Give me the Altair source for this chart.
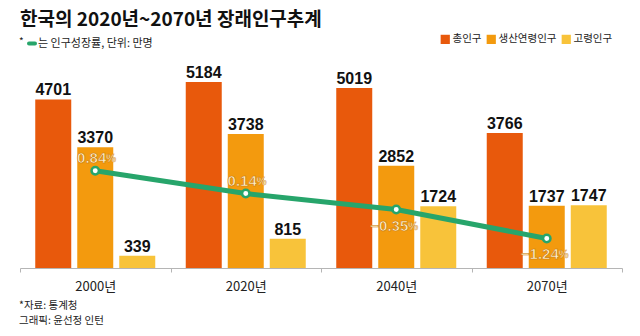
import altair as alt
import pandas as pd

# ---------------- data ----------------
years = ["2000년", "2020년", "2040년", "2070년"]
series_names = ["총인구", "생산연령인구", "고령인구"]
total_pop = [4701, 5184, 5019, 3766]
working_pop = [3370, 3738, 2852, 1737]
elderly_pop = [339, 815, 1724, 1747]
growth_rate = [0.84, 0.14, -0.35, -1.24]

title_text = "한국의 2020년~2070년 장래인구추계"
subtitle_text = "는 인구성장률, 단위: 만명"
source_text = "*자료: 통계청"
credit_text = "그래픽: 윤선정 인턴"

colors = ["#E8590C", "#F39A0E", "#F8C33A"]
line_color = "#27A56B"

rows = []
for s, vals in zip(series_names, [total_pop, working_pop, elderly_pop]):
    for y, v in zip(years, vals):
        rows.append({"year": y, "series": s, "value": v})
bars_df = pd.DataFrame(rows)
rate_df = pd.DataFrame({"year": years, "rate": growth_rate})
one_df = pd.DataFrame({"k": [0]})

KFONT = "Noto Sans CJK KR"
NFONT = "Liberation Sans Narrow, Arial Narrow, Liberation Sans, sans-serif"

x_enc = alt.X(
    "year:N", sort=years,
    scale=alt.Scale(domain=years, paddingInner=0, paddingOuter=0),
    axis=alt.Axis(title=None, labelAngle=0, tickBand="extent", domainColor="#b5b5b5",
                  tickColor="#b5b5b5", tickSize=4, labelFont=KFONT, labelFontSize=13,
                  labelColor="#222222", labelPadding=8, domainWidth=1, grid=False),
)
xoff_enc = alt.XOffset(
    "series:N", sort=series_names,
    scale=alt.Scale(domain=series_names, paddingInner=0.143, paddingOuter=0.363),
)
y_bar = alt.Y("value:Q", scale=alt.Scale(domain=[0, 5800], nice=False, zero=True), axis=None)
y_rate = alt.Y("rate:Q", scale=alt.Scale(domain=[-2.15, 4.25], nice=False, zero=False), axis=None)

bars = alt.Chart(bars_df).mark_bar().encode(
    x=x_enc, xOffset=xoff_enc, y=y_bar,
    color=alt.Color(
        "series:N", sort=series_names,
        scale=alt.Scale(domain=series_names, range=colors),
        legend=alt.Legend(orient="none", legendX=420, legendY=-26, direction="horizontal",
                          title=None, symbolType="square", symbolSize=85, symbolStrokeWidth=0,
                          labelFont=KFONT, labelFontSize=10.5, labelColor="#222222",
                          columnPadding=4, labelOffset=2),
    ),
)
bar_text = alt.Chart(bars_df).mark_text(
    font=NFONT, fontSize=16, fontWeight="bold", baseline="alphabetic", dy=-4, color="#111111"
).encode(x=x_enc, xOffset=xoff_enc, y=y_bar, text="value:Q")

bar_layer = alt.layer(bars, bar_text)

line = alt.Chart(rate_df).mark_line(color=line_color, strokeWidth=5).encode(x=x_enc, y=y_rate)
points = alt.Chart(rate_df).mark_circle(
    color="white", stroke=line_color, strokeWidth=2.5, size=55, opacity=1
).encode(x=x_enc, y=y_rate)

label_color = "#FFF4CF"
label_stroke = "#C8780A"
pos_num = alt.Chart(rate_df).transform_filter("datum.rate >= 0").mark_text(
    align="right", baseline="middle", dx=11, dy=-13, font="Liberation Sans", fontSize=15,
    fontWeight="bold", color=label_color, stroke=label_stroke, strokeWidth=0.6
).encode(x=x_enc, y=y_rate, text=alt.Text("rate:Q", format=".2f"))
pos_pct = alt.Chart(rate_df).transform_filter("datum.rate >= 0").mark_text(
    text="%", align="left", baseline="middle", dx=11, dy=-12, font="Liberation Sans",
    fontSize=11, fontWeight="bold", color=label_color, stroke=label_stroke, strokeWidth=0.4
).encode(x=x_enc, y=y_rate)
neg_num = alt.Chart(rate_df).transform_filter("datum.rate < 0").mark_text(
    align="right", baseline="middle", dx=12, dy=16, font="Liberation Sans", fontSize=15,
    fontWeight="bold", color=label_color, stroke=label_stroke, strokeWidth=0.6
).encode(x=x_enc, y=y_rate, text=alt.Text("rate:Q", format=".2f"))
neg_pct = alt.Chart(rate_df).transform_filter("datum.rate < 0").mark_text(
    text="%", align="left", baseline="middle", dx=12, dy=17, font="Liberation Sans",
    fontSize=11, fontWeight="bold", color=label_color, stroke=label_stroke, strokeWidth=0.4
).encode(x=x_enc, y=y_rate)

line_layer = alt.layer(line, points, pos_num, pos_pct, neg_num, neg_pct)

title = alt.Chart(one_df).mark_text(
    text=title_text, align="left", baseline="middle", font=KFONT, fontSize=19,
    fontWeight="bold", color="#111111"
).encode(x=alt.value(0), y=alt.value(-40))
star = alt.Chart(one_df).mark_text(
    text="*", align="left", baseline="middle", font=KFONT, fontSize=10, color="#222222"
).encode(x=alt.value(-1), y=alt.value(-18))
dash = alt.Chart(one_df).mark_rule(color=line_color, strokeWidth=4, strokeCap="round").encode(
    x=alt.value(9), x2=alt.value(15), y=alt.value(-16.5)
)
subtitle = alt.Chart(one_df).mark_text(
    text=subtitle_text, align="left", baseline="middle", font=KFONT, fontSize=11, color="#222222"
).encode(x=alt.value(18), y=alt.value(-16))
source = alt.Chart(one_df).mark_text(
    text=source_text, align="left", baseline="middle", font=KFONT, fontSize=10.5, color="#222222"
).encode(x=alt.value(-1), y=alt.value(245.5))
credit = alt.Chart(one_df).mark_text(
    text=credit_text, align="left", baseline="middle", font=KFONT, fontSize=10.5, color="#222222"
).encode(x=alt.value(-1), y=alt.value(260.5))

chart = alt.layer(
    bar_layer, line_layer, title, star, dash, subtitle, source, credit
).resolve_scale(y="independent").properties(
    width=602, height=208,
    padding={"left": 20, "top": 60, "right": 18, "bottom": 68},
    autosize=alt.AutoSizeParams(type="none"),
    background="white",
).configure_view(stroke=None)

chart.save("out.html", embed_options={"renderer": "svg", "actions": False})
